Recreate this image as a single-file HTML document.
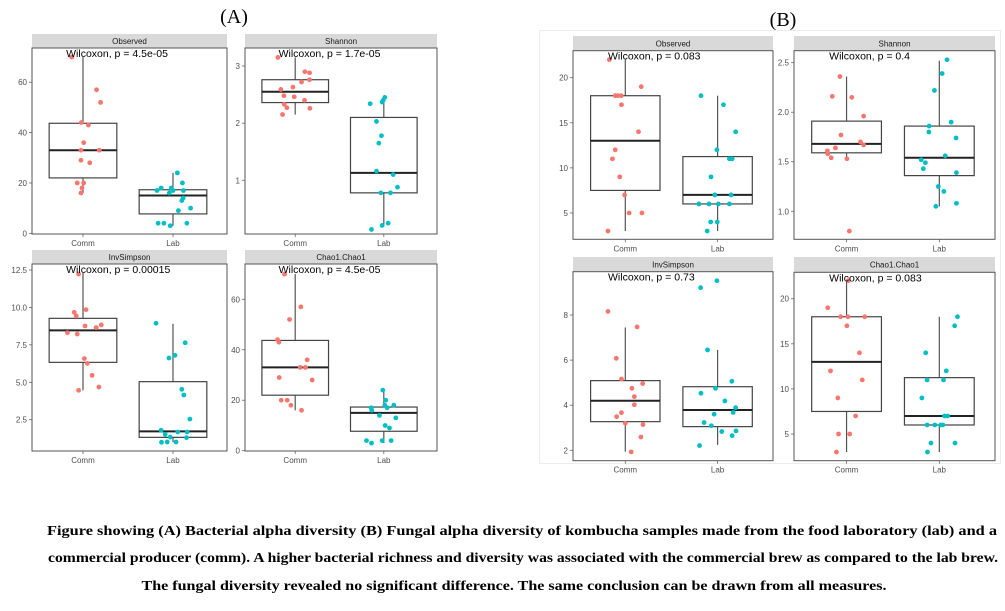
<!DOCTYPE html>
<html><head><meta charset="utf-8"><style>
body{margin:0;background:#fff;}
svg{display:block;font-family:"Liberation Sans",sans-serif;}
</style></head><body>
<svg id="chart" width="1005" height="611" viewBox="0 0 1005 611">
<text x="234" y="23" font-family="Liberation Serif,serif" font-size="20" text-anchor="middle">(A)</text>
<text x="783" y="26" font-family="Liberation Serif,serif" font-size="20" text-anchor="middle">(B)</text>
<rect x="539.5" y="30.5" width="461" height="433" fill="none" stroke="#ececec"/>
<g font-family="Liberation Serif,serif" font-weight="bold" font-size="14" text-anchor="middle">
<text x="522" y="535" textLength="950" lengthAdjust="spacingAndGlyphs">Figure showing (A) Bacterial alpha diversity (B) Fungal alpha diversity of kombucha samples made from the food laboratory (lab) and a</text>
<text x="523" y="562" textLength="950" lengthAdjust="spacingAndGlyphs">commercial producer (comm). A higher bacterial richness and diversity was associated with the commercial brew as compared to the lab brew.</text>
<text x="514" y="590" textLength="745" lengthAdjust="spacingAndGlyphs">The fungal diversity revealed no significant difference. The same conclusion can be drawn from all measures.</text>
</g>
</svg>
<script>
// ---- data ----
const categories = ["Comm","Lab"];
const panelTitles = ["Observed","Shannon","InvSimpson","Chao1.Chao1","Observed","Shannon","InvSimpson","Chao1.Chao1"];
const pLabels = ["Wilcoxon, p = 4.5e-05","Wilcoxon, p = 1.7e-05","Wilcoxon, p = 0.00015","Wilcoxon, p = 4.5e-05",
                 "Wilcoxon, p = 0.083","Wilcoxon, p = 0.4","Wilcoxon, p = 0.73","Wilcoxon, p = 0.083"];
const tickLabels = [["0","20","40","60"],["1","2","3"],["2.5","5.0","7.5","10.0","12.5"],["0","20","40","60"],
                    ["5","10","15","20"],["1.0","1.5","2.0","2.5"],["2","4","6","8"],["5","10","15","20"]];
const domains = [[-0.28,73.6],[0.06,3.315],[0.409,12.9],[-0.12,73.99],[2.08,22.99],[0.717,2.621],[1.539,9.92],[2.04,22.93]];
// box stats: [lowerWhisker, q1, median, q3, upperWhisker] per category
const boxStats = [
 [[16,22,33,43.7,70],[3,7.7,15,17.3,24]],
 [[2.15,2.36,2.55,2.76,3.15],[0.2,0.78,1.13,2.10,2.45]],
 [[4.46,6.33,8.47,9.27,12.3],[1.0,1.32,1.72,5.04,8.91]],
 [[16,22,33,43.7,70],[3,7.7,15,17.3,24]],
 [[3,7.5,13,18,22],[3,6,7,11.25,18]],
 [[1.55,1.59,1.68,1.91,2.36],[1.05,1.36,1.54,1.86,2.52]],
 [[1.94,3.27,4.20,5.09,7.45],[2.24,3.05,3.79,4.82,6.45]],
 [[3,7.5,13,18,22],[3,6,7,11.25,18]]
];
// sample values per panel per category
const values = [
 [[70,57,52,44,43,36,33,33,29,28,20,20,18,16],[24,20,18,18,17,17,17,16,14,13,10,9,4,4,4,3]],
 [[3.15,2.9,2.88,2.76,2.72,2.63,2.59,2.48,2.46,2.4,2.33,2.27,2.26,2.15],[2.45,2.4,2.37,2.34,2.03,1.78,1.65,1.16,1.10,0.88,0.78,0.78,0.25,0.21,0.14]],
 [[12.23,9.67,9.43,9.85,8.76,8.65,8.83,8.31,8.22,6.58,6.26,5.46,4.68,4.46],[8.94,7.64,6.80,6.62,4.53,4.15,2.54,1.79,1.52,1.68,1.68,1.34,1.30,0.99,1.01,1.01]],
 [[70,57,52,44,43,36,33,33,29,28,20,20,18,16],[24,20,18,18,17,17,16,14,13,10,9,4,4,4,3]],
 [[22,18,18,18,19,17,14,12,11,9,7,5,5,3],[18,17,14,12,11,11,9,7,7,6,6,6,6,4,4,3]],
 [[2.36,2.16,2.15,1.96,1.77,1.70,1.67,1.64,1.61,1.58,1.54,1.53,0.80],[2.53,2.39,2.22,1.90,1.86,1.80,1.74,1.56,1.52,1.49,1.43,1.39,1.25,1.20,1.08,1.05]],
 [[8.16,7.47,6.08,5.16,4.96,4.75,4.38,4.02,3.67,3.49,3.20,3.14,2.59,1.93],[9.21,9.52,6.45,5.06,4.75,4.53,4.19,3.89,3.68,3.60,3.23,3.09,2.83,2.86,2.65,2.21]],
 [[19,18,18,18,17,14,12,11,9,7,5,5,3,22],[18,17,14,12,11,11,9,7,7,6,6,6,6,4,4,3]]
];
// horizontal jitter (fraction of box half-width)
const jitter = [
 [[-.33,.4,.52,-.05,.16,.02,-.06,.48,-.06,.2,-.17,.02,-.03,-.06],[.13,.28,-.35,-.05,-.47,0,.31,-.11,.3,.26,.52,.16,-.44,-.27,.41,-.08]],
 [[-.52,.29,.43,.43,.19,-.07,-.43,-.34,-.03,.28,-.33,-.25,.44,-.38],[.03,-.02,-.05,-.41,-.22,-.07,-.15,-.22,.28,.41,-.09,.2,.13,-.05,-.37]],
 [[-.13,-.26,-.2,.09,.06,.39,.54,-.46,-.17,.04,.13,.27,.47,-.13],[-.5,.36,.06,-.12,.26,.32,.5,-.35,-.23,.14,.42,-.08,.4,-.34,-.17,.09]],
 [[-.32,.17,-.17,-.53,-.49,.36,.15,.31,-.48,.51,-.42,-.24,-.13,.19],[-.03,.06,.03,.3,.1,-.38,-.36,-.13,.36,.04,.17,-.52,-.05,.22,-.37]],
 [[-.46,-.29,-.22,-.12,.46,-.11,.38,-.29,-.37,-.16,-.02,.11,.48,-.5],[-.48,.17,.52,-.02,.34,.42,-.19,-.08,.39,-.54,-.25,.02,.34,-.2,-.01,-.3]],
 [[-.19,-.41,.15,.49,-.16,.4,.49,-.32,-.55,-.54,-.44,.01,.08],[.22,.08,-.14,.34,-.29,-.3,.48,.17,-.52,-.4,-.46,.49,-.03,.13,.49,-.1]],
 [[-.5,.34,-.26,-.11,.5,.19,.26,.26,-.11,-.25,0,.51,.45,.17],[-.49,-.02,-.29,.41,-.06,-.48,.21,.52,.45,-.1,-.39,-.18,.12,.53,.42,-.52]],
 [[-.54,-.17,.04,.52,.01,.37,-.46,.45,-.25,.26,-.23,.09,-.29,.05],[.52,.44,-.39,.2,-.35,.12,-.5,.15,.24,-.35,-.13,.04,.1,-.24,.45,-.34]]
];
// ---- layout (not data) ----
const layouts = [
 {x0:32,x1:227,st:34,pt:48,pb:234},{x0:245,x1:437,st:34,pt:48,pb:234},
 {x0:32,x1:227,st:250,pt:264,pb:451},{x0:245,x1:437,st:250,pt:264,pb:451},
 {x0:573,x1:773,st:36,pt:50.7,pb:239.3},{x0:794,x1:995,st:36,pt:50.7,pb:239.3},
 {x0:573,x1:773,st:257,pt:271.7,pb:460.7},{x0:794,x1:995,st:257,pt:272.3,pb:460.7}
];
const colors = ["#F8766D","#00BFC4"];
const NS = "http://www.w3.org/2000/svg";
const svg = document.getElementById("chart");
function mk(tag, attrs, parent){const e=document.createElementNS(NS,tag);for(const k in attrs)e.setAttribute(k,attrs[k]);(parent||svg).appendChild(e);return e;}

layouts.forEach((L,pi)=>{
  const g = mk("g",{});
  
  
  const [lo,hi] = domains[pi];
  const yS = v => L.pb - (v-lo)/(hi-lo)*(L.pb-L.pt);
  const w = L.x1-L.x0;
  const xS = i => L.x0 + w*(0.2615 + 0.4615*i);
  const hw = w*0.1735;
  const strip = mk("rect",{x:L.x0,y:L.st,width:w,height:L.pt-L.st,fill:"#d9d9d9"},g);
  
  
  const st = mk("text",{x:L.x0+w/2,y:L.st+(L.pt-L.st)/2+3,"font-size":8,fill:"#1a1a1a","text-anchor":"middle"},g);
  st.textContent = panelTitles[pi];
  
  
  tickLabels[pi].forEach(t=>{
    const y = yS(parseFloat(t));
    mk("line",{x1:L.x0-3,x2:L.x0,y1:y,y2:y,stroke:"#666","stroke-width":0.8},g);
    const tt = mk("text",{x:L.x0-5,y:y+3,"font-size":8,fill:"#4d4d4d","text-anchor":"end"},g);
    tt.textContent = t;
    
    
  });
  categories.forEach((c,ci)=>{
    const cx = xS(ci);
    mk("line",{x1:cx,x2:cx,y1:L.pb,y2:L.pb+3,stroke:"#666","stroke-width":0.8},g);
    const xt = mk("text",{x:cx,y:L.pb+12,"font-size":8,fill:"#4d4d4d","text-anchor":"middle"},g);
    xt.textContent = c;
    
    
    const [wl,q1,md,q3,wu] = boxStats[pi][ci];
    const bg = mk("g",{},g);
    
    
    mk("line",{x1:cx,x2:cx,y1:yS(wu),y2:yS(q3),stroke:"#555","stroke-width":1.2},bg);
    mk("line",{x1:cx,x2:cx,y1:yS(q1),y2:yS(wl),stroke:"#555","stroke-width":1.2},bg);
    mk("rect",{x:cx-hw,y:yS(q3),width:2*hw,height:yS(q1)-yS(q3),fill:"#fff",stroke:"#444","stroke-width":1.2},bg);
    mk("line",{x1:cx-hw,x2:cx+hw,y1:yS(md),y2:yS(md),stroke:"#222","stroke-width":2},bg);
    values[pi][ci].forEach((v,k)=>{
      const p = mk("circle",{cx:cx+jitter[pi][ci][k]*hw,cy:yS(v),r:2.4,fill:colors[ci]},g);
      
      
    });
  });
  const fr = mk("rect",{x:L.x0,y:L.pt,width:w,height:L.pb-L.pt,fill:"none",stroke:"#555","stroke-width":1},g);
  
  
  const pt = mk("text",{x:L.x0+w*0.175,y:L.pt+9,"font-size":10.5,fill:"#000"},g);
  pt.textContent = pLabels[pi];
  
  
});
</script>
</body></html>
